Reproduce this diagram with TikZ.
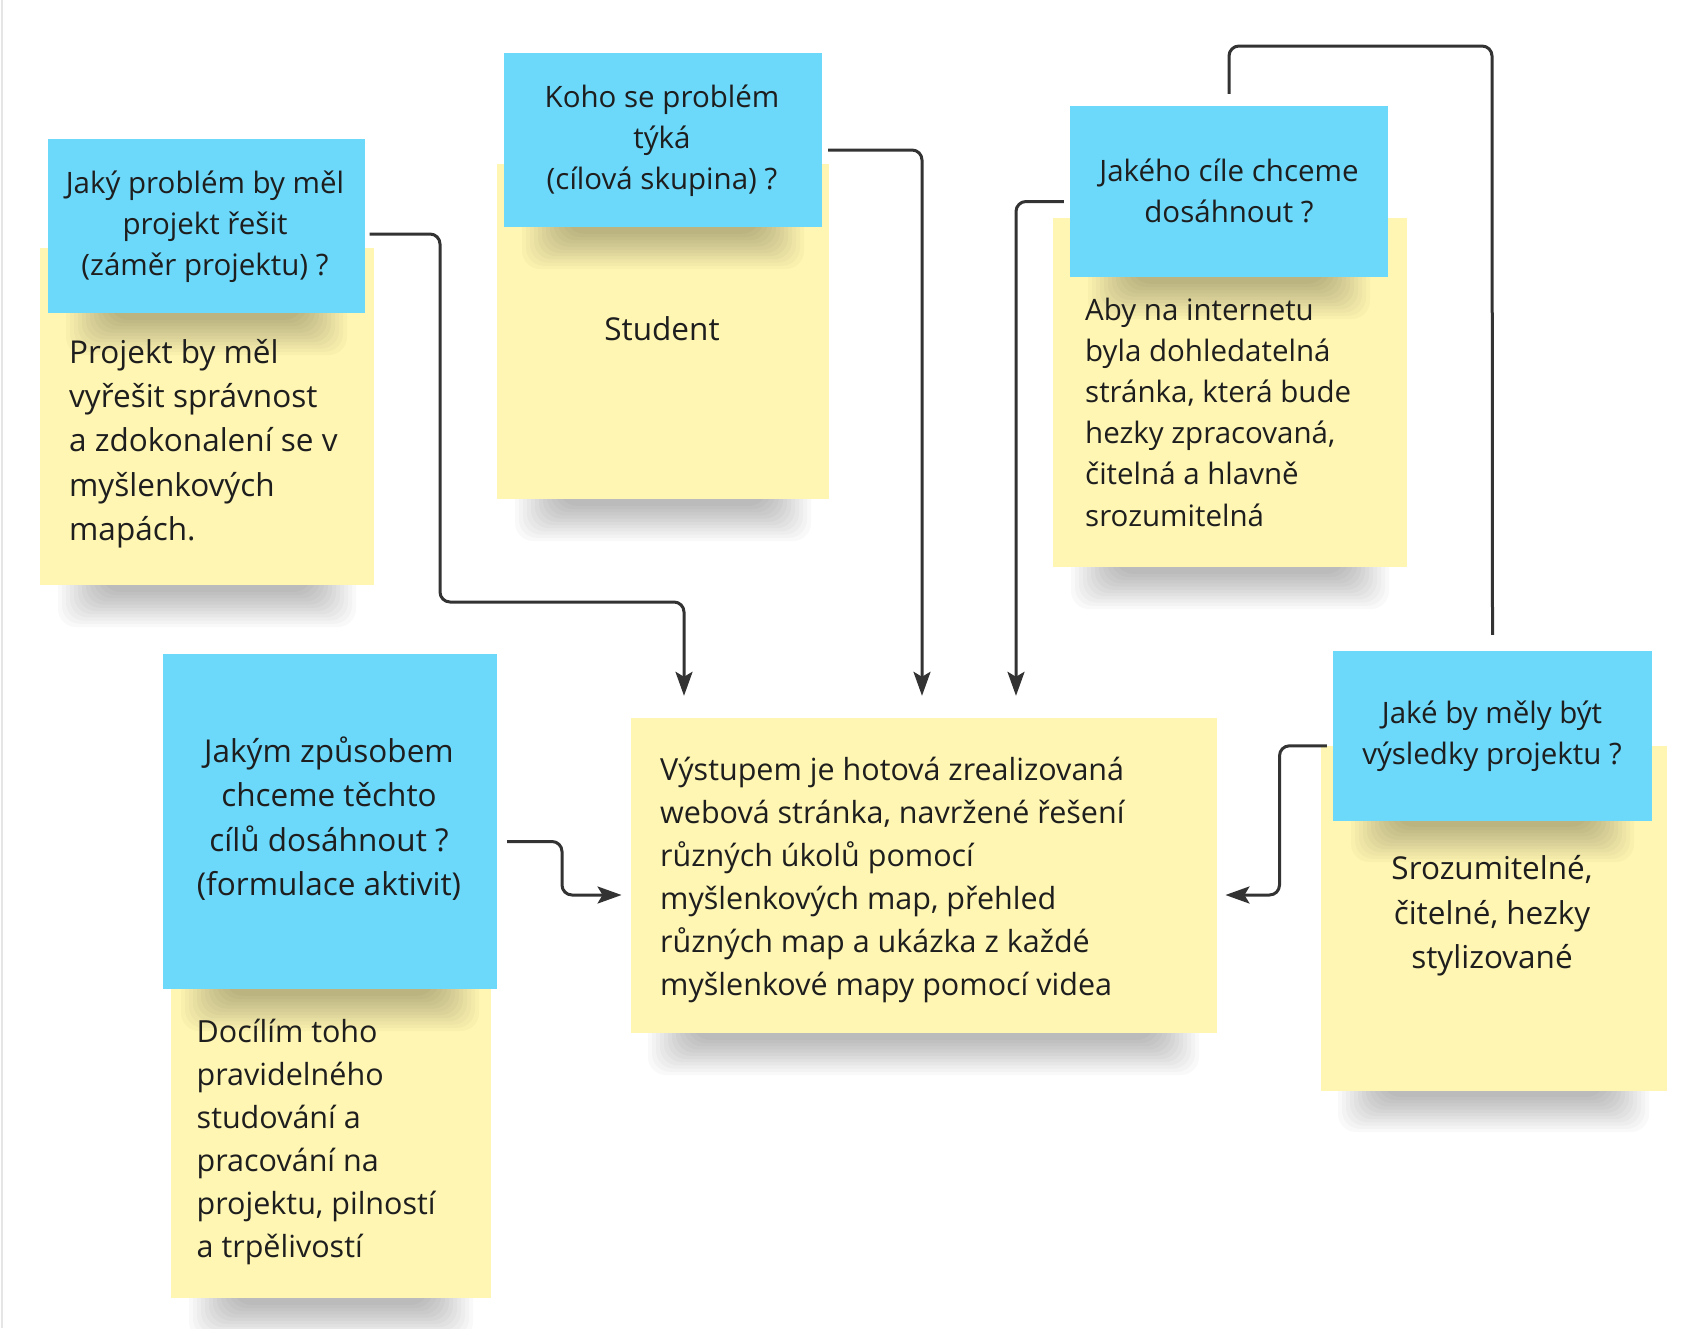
\documentclass[tikz,border=0pt]{standalone}
\usepackage{fontspec}
\setmainfont{Open Sans}
\usetikzlibrary{arrows.meta}
\definecolor{notebg}{HTML}{FFF6B3}
\definecolor{askbg}{HTML}{6CD8FA}
\definecolor{ink}{HTML}{1E1E1E}
\definecolor{wire}{HTML}{333333}
\tikzset{%
	answer/.style = {rectangle, fill=notebg, inner sep=0pt}, % yellow sticky
	ask/.style    = {rectangle, fill=askbg, inner sep=0pt}, % blue sticky
	txt/.style    = {inner sep=0pt, text=ink},
	big/.style    = {font=\fontsize{31.5}{44.3}\selectfont},
	mid/.style    = {font=\fontsize{30.5}{43}\selectfont},
	small/.style  = {font=\fontsize{29.5}{41.2}\selectfont},
	line/.style   = {draw=wire, line width=3pt, rounded corners=10pt},
	arr/.style    = {line, -{Stealth[length=24pt,width=17pt,inset=5pt]}}
}
% soft shadow under the bottom edge of a sticky: left x, right x, bottom y
\newcommand{\stickyshadow}[3]{%
	\foreach \k in {0,...,11}{%
		\fill[black, opacity=0.024, rounded corners=18pt]
			(#1+18+4*\k, #3-30) rectangle (#2-18-4*\k, #3+42-3.2*\k);
	}%
}

\begin{document}
\begin{tikzpicture}[x=1pt, y=-1pt]
	\useasboundingbox (0,0) rectangle (1693,1328);
	\fill[white] (0,0) rectangle (1693,1328);
	\draw[black!10, line width=2pt] (2,0) -- (2,1328);

	% problem
	\stickyshadow{40}{374}{585}
	\node[answer, minimum width=334pt, minimum height=337pt] (ansA) at (207,416.5) {};
	\stickyshadow{48}{365}{313}
	\node[ask, minimum width=317pt, minimum height=174pt] (qA) at (206,226) {};
	\node[txt, small, align=center] (qAt) at (205,226.5) {Jaký problém by měl\\projekt řešit\\(záměr projektu) ?};
	\node[txt, big, align=left, anchor=west] (ansAt) at (69,443.5) {Projekt by měl\\vyřešit správnost\\a zdokonalení se v\\myšlenkových\\mapách.};

	% target group
	\stickyshadow{497}{829}{499}
	\node[answer, minimum width=332pt, minimum height=335pt] (ansB) at (663,331.5) {};
	\stickyshadow{504}{822}{227}
	\node[ask, minimum width=318pt, minimum height=174pt] (qB) at (663,140) {};
	\node[txt, small, align=center] (qBt) at (662,141) {Koho se problém\\týká\\(cílová skupina) ?};
	\node[txt, big] (ansBt) at (662,329) {Student};

	% goal
	\stickyshadow{1053}{1407}{567}
	\node[answer, minimum width=354pt, minimum height=349pt] (ansC) at (1230,392.5) {};
	\stickyshadow{1070}{1388}{277}
	\node[ask, minimum width=318pt, minimum height=171pt] (qC) at (1229,191.5) {};
	\node[txt, small, align=center] (qCt) at (1229,191) {Jakého cíle chceme\\dosáhnout ?};
	\node[txt, small, align=left, anchor=west] (ansCt) at (1085,412) {Aby na internetu\\byla dohledatelná\\stránka, která bude\\hezky zpracovaná,\\čitelná a hlavně\\srozumitelná};

	% activities
	\stickyshadow{171}{491}{1298}
	\node[answer, minimum width=320pt, minimum height=313pt] (ansD) at (331,1141.5) {};
	\stickyshadow{163}{497}{989}
	\node[ask, minimum width=334pt, minimum height=335pt] (qD) at (330,821.5) {};
	\node[txt, big, align=center] (qDt) at (329,818.5) {Jakým způsobem\\chceme těchto\\cílů dosáhnout ?\\(formulace aktivit)};
	\node[txt, mid, align=left, anchor=west] (ansDt) at (196.5,1141.5) {Docílím toho\\pravidelného\\studování a\\pracování na\\projektu, pilností\\a trpělivostí};

	% output
	\stickyshadow{630}{1217}{1033}
	\node[answer, minimum width=586.5pt, minimum height=315pt] (out) at (924,875.5) {};
	\node[txt, mid, align=left, anchor=west] (outt) at (660,879.5) {Výstupem je hotová zrealizovaná\\webová stránka, navržené řešení\\různých úkolů pomocí\\myšlenkových map, přehled\\různých map a ukázka z každé\\myšlenkové mapy pomocí videa};

	% results
	\stickyshadow{1320}{1667}{1090}
	\node[answer, minimum width=346.5pt, minimum height=345pt] (ansE) at (1494,918) {};
	\stickyshadow{1333}{1652}{820}
	\node[ask, minimum width=319pt, minimum height=169.5pt] (qE) at (1492.5,735.8) {};
	\node[txt, small, align=center] (qEt) at (1492,736.5) {Jaké by měly být\\výsledky projektu ?};
	\node[txt, big, align=center] (ansEt) at (1492,916) {Srozumitelné,\\čitelné, hezky\\stylizované};

	% connectors
	\draw[arr, shorten >=22pt] ([xshift=5pt, yshift=-8pt]qA.east) -| (440,602) -| ([xshift=-240pt]out.north);
	\draw[arr, shorten >=22pt] ([xshift=6pt, yshift=-10pt]qB.east) -| ([xshift=-2pt]out.north);
	\draw[arr, shorten >=22pt] ([xshift=-6pt, yshift=-10pt]qC.west) -| ([xshift=92pt]out.north);
	\draw[arr, shorten >=9pt] ([xshift=10pt, yshift=-20pt]qD.east) -| (562,895) -- ([yshift=-19.5pt]out.west);
	\draw[arr, shorten >=8pt] ([xshift=-6pt, yshift=-10pt]qE.west) -| (1279.5,895) -- ([yshift=-19.5pt]out.east);
	\draw[line] ([yshift=12pt]qC.north) |- (1492,46) -- ([yshift=16pt]qE.north);
\end{tikzpicture}
\end{document}
